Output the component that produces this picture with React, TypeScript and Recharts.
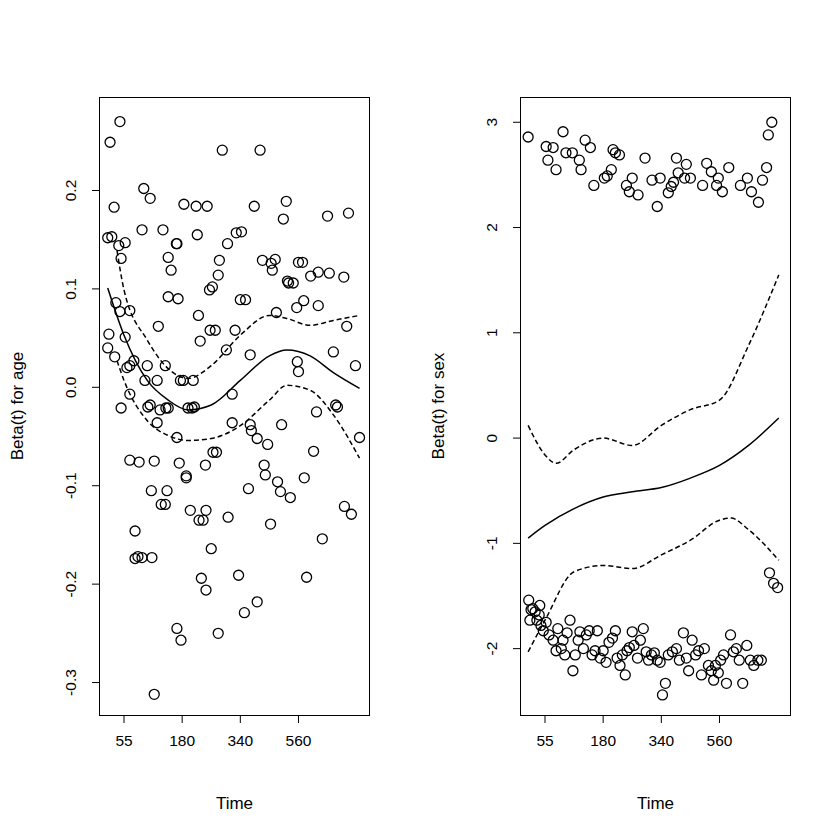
import { ComposedChart, Scatter, Line, XAxis, YAxis } from 'recharts'

// x is on the plot's transformed time scale (tick 55 -> 1, 180 -> 2, 340 -> 3, 560 -> 4)
const timeTicks = [1, 2, 3, 4]
const timeLabels = ['55', '180', '340', '560']

const ageTicks = [-0.3, -0.2, -0.1, 0, 0.1, 0.2]
const ageTickLabels = ['-0.3', '-0.2', '-0.1', '0.0', '0.1', '0.2']
const sexTicks = [-2, -1, 0, 1, 2, 3]

const agePoints: [number, number][] = [
  [0.76,.249],[0.93,.270],[0.83,.183],[0.72,.152],[0.79,.153],[0.91,.144],[0.95,.131],[1.02,.147],[0.86,.086],[0.93,.077],
  [0.74,.054],[0.72,.040],[0.84,.031],[1.10,.078],[1.02,.051],[1.10,.022],[1.05,.020],[1.17,.027],[1.10,-.007],[0.95,-.021],
  [1.10,-.074],[1.19,-.146],[1.24,-.172],[1.19,-.174],[1.26,-.076],[1.31,-.173],[1.34,.202],[1.31,.160],[1.36,.007],[1.41,-.020],
  [1.45,.192],[1.40,.022],[1.45,-.018],[1.47,-.105],[1.48,-.173],[1.52,-.075],[1.57,-.036],[1.62,-.023],[1.64,-.119],[1.57,.007],
  [1.59,.062],[1.67,.160],[1.71,.022],[1.72,-.021],[1.71,-.119],[1.74,-.105],[1.76,.092],[1.76,.132],[1.76,-.021],[1.81,.119],
  [1.90,.146],[1.91,.146],[1.91,-.051],[1.97,.007],[1.95,-.077],[1.93,.090],[1.91,-.245],[1.98,-.257],[2.02,.007],[2.03,.186],
  [2.07,-.090],[2.07,-.092],[2.10,-.021],[2.14,-.125],[2.17,-.021],[2.19,.007],[2.21,-.020],[2.24,.184],[2.26,.155],[2.28,.073],
  [2.31,.047],[2.29,-.135],[2.33,-.194],[2.40,-.079],[2.36,-.135],[2.41,-.206],[2.43,.184],[2.41,-.125],[2.47,.099],[2.48,.058],
  [2.52,.102],[2.50,-.164],[2.53,-.066],[2.57,.058],[2.59,-.066],[2.62,-.250],[2.62,.114],[2.64,.129],[2.69,.241],[2.76,.038],
  [2.78,.146],[2.79,-.132],[2.86,-.007],[2.91,.058],[2.86,-.036],[2.93,.157],[2.97,-.191],[3.00,.089],[3.02,.158],[3.07,-.229],
  [3.09,.089],[3.14,-.103],[3.17,-.038],[3.17,.033],[3.19,-.044],[3.24,.184],[3.29,-.052],[3.29,-.218],[3.34,.241],[3.38,.129],
  [3.41,-.079],[3.43,-.089],[3.47,-.058],[3.52,-.139],[3.55,.119],[3.53,.126],[3.60,.130],[3.62,.076],[3.64,-.096],[3.69,-.106],
  [3.71,-.038],[3.74,.171],[3.79,.189],[3.81,.108],[3.83,.106],[3.86,-.112],[3.91,.106],[3.97,.081],[3.98,.026],[4.00,.127],
  [4.00,.016],[4.07,.127],[4.09,.088],[4.10,-.092],[4.14,-.193],[4.21,.113],[4.26,-.065],[4.34,.083],[4.34,.117],[4.31,-.025],
  [4.41,-.154],[4.50,.174],[4.53,.116],[4.60,.036],[4.64,-.018],[4.67,-.020],[4.78,.112],[4.83,.062],[4.79,-.121],[4.86,.177],
  [4.91,-.129],[4.98,.022],[5.05,-.051],[1.52,-.312],
]

const ageFit: [number, number][] = [
  [0.72,.101],[1.0,.053],[1.4,.007],[1.76,-.013],[2.1,-.023],[2.5,-.018],[3.0,.007],[3.5,.032],[3.8,.038],[4.2,.032],[4.6,.015],[5.05,-.001],
]
const ageUpper: [number, number][] = [
  [0.88,.139],[1.0,.099],[1.4,.048],[1.76,.019],[2.1,.009],[2.5,.022],[3.0,.053],[3.5,.073],[3.8,.070],[4.2,.063],[4.6,.068],[5.05,.073],
]
const ageLower: [number, number][] = [
  [0.88,.027],[1.0,.007],[1.4,-.034],[1.76,-.049],[2.1,-.054],[2.5,-.052],[3.0,-.039],[3.5,-.013],[3.8,.002],[4.2,-.003],[4.6,-.028],[5.05,-.072],
]

const sexPoints: [number, number][] = [
  [0.71,2.86],[1.02,2.77],[1.05,2.64],[1.14,2.76],[1.19,2.55],[1.31,2.91],[1.36,2.71],[1.47,2.71],[1.59,2.64],[1.62,2.55],
  [1.69,2.83],[1.78,2.76],[1.84,2.40],[2.02,2.47],[2.07,2.49],[2.14,2.55],[2.17,2.74],[2.21,2.71],[2.28,2.69],[2.40,2.40],
  [2.45,2.34],[2.50,2.47],[2.60,2.31],[2.72,2.66],[2.84,2.45],[2.93,2.20],[2.98,2.47],[3.12,2.33],[3.17,2.39],[3.21,2.43],
  [3.26,2.66],[3.29,2.52],[3.40,2.47],[3.43,2.60],[3.50,2.47],[3.71,2.40],[3.78,2.61],[3.86,2.53],[3.95,2.40],[3.98,2.47],
  [4.05,2.34],[4.16,2.57],[4.36,2.40],[4.48,2.47],[4.55,2.34],[4.67,2.24],[4.74,2.45],[4.81,2.57],[4.84,2.88],[4.90,3.00],
  [0.72,-1.54],[0.76,-1.63],[0.74,-1.73],[0.79,-1.62],[0.83,-1.65],[0.86,-1.73],[0.90,-1.68],[0.91,-1.59],[0.93,-1.78],[0.97,-1.83],
  [1.02,-1.75],[1.07,-1.87],[1.14,-1.92],[1.19,-2.02],[1.22,-1.81],[1.28,-2.00],[1.31,-1.92],[1.34,-2.06],[1.38,-1.85],[1.43,-1.73],
  [1.48,-2.21],[1.52,-2.06],[1.57,-1.92],[1.60,-1.84],[1.66,-2.00],[1.71,-1.87],[1.76,-1.83],[1.81,-2.06],[1.86,-2.02],[1.90,-1.83],
  [1.95,-2.09],[2.00,-2.02],[2.05,-2.13],[2.10,-1.94],[2.16,-1.90],[2.21,-1.83],[2.24,-2.09],[2.29,-2.16],[2.33,-2.06],[2.38,-2.25],
  [2.41,-2.02],[2.45,-1.99],[2.50,-1.84],[2.53,-1.97],[2.59,-2.09],[2.64,-1.92],[2.69,-1.81],[2.74,-2.03],[2.78,-2.11],[2.83,-2.06],
  [2.88,-2.04],[2.93,-2.11],[2.98,-2.13],[3.02,-2.44],[3.07,-2.33],[3.12,-2.06],[3.19,-2.03],[3.26,-2.00],[3.31,-2.11],[3.38,-1.85],
  [3.43,-2.09],[3.47,-2.21],[3.53,-1.92],[3.59,-2.06],[3.64,-2.02],[3.69,-2.25],[3.74,-2.00],[3.81,-2.16],[3.86,-2.21],[3.90,-2.30],
  [3.93,-2.16],[3.98,-2.23],[4.02,-2.11],[4.07,-2.06],[4.12,-2.33],[4.19,-1.87],[4.24,-2.03],[4.29,-2.00],[4.34,-2.11],[4.40,-2.33],
  [4.47,-1.97],[4.53,-2.11],[4.59,-2.16],[4.66,-2.11],[4.72,-2.11],[4.86,-1.28],[4.93,-1.38],[5.00,-1.42],
]

const sexFit: [number, number][] = [
  [0.71,-0.95],[1.0,-0.83],[1.5,-0.67],[2.0,-0.56],[2.5,-0.51],[3.0,-0.47],[3.5,-0.38],[4.0,-0.26],[4.5,-0.07],[5.02,0.19],
]
const sexUpper: [number, number][] = [
  [0.71,0.12],[1.0,-0.16],[1.19,-0.24],[1.5,-0.11],[2.0,0.0],[2.5,-0.07],[3.0,0.12],[3.5,0.27],[4.0,0.36],[4.5,0.88],[5.02,1.55],
]
const sexLower: [number, number][] = [
  [0.71,-2.03],[1.0,-1.73],[1.5,-1.27],[2.0,-1.21],[2.5,-1.24],[3.0,-1.11],[3.5,-0.97],[4.0,-0.78],[4.2,-0.76],[4.5,-0.87],[5.02,-1.16],
]

const toRows = (pts: [number, number][]) => pts.map(([x, y]) => ({ x, y }))
const font = '"Liberation Sans", Arial, sans-serif'

const ring = (p: any) => <circle cx={p.cx} cy={p.cy} r={5} fill="none" stroke="#000" strokeWidth={1.3} />

const YTick = (labels: string[] | null) => (p: any) => {
  const v = p.payload.value
  const text = labels ? labels[p.index] : String(v)
  return (
    <text x={p.x - 14} y={p.y} transform={`rotate(-90 ${p.x - 14} ${p.y})`} textAnchor="middle"
      fontSize={15.5} fontFamily={font} fill="#000">{text}</text>
  )
}

const XTick = (p: any) => (
  <text x={p.x} y={p.y + 21} textAnchor="middle" fontSize={15.5} fontFamily={font} fill="#000">
    {timeLabels[timeTicks.indexOf(p.payload.value)]}
  </text>
)

interface PanelProps {
  left: number
  points: [number, number][]
  fit: [number, number][]
  upper: [number, number][]
  lower: [number, number][]
  yDomain: [number, number]
  yTicks: number[]
  yLabels: string[] | null
  title: string
}

function Panel({ left, points, fit, upper, lower, yDomain, yTicks, yLabels, title }: PanelProps) {
  return (
    <div style={{ position: 'absolute', left, top: 0, width: 420, height: 840 }}>
      <ComposedChart width={420} height={840} margin={{ top: 97, right: 50, bottom: 94, left: 39 }}>
        <XAxis type="number" dataKey="x" domain={[0.57, 5.23]} ticks={timeTicks} tick={XTick}
          axisLine={false} tickSize={7} tickLine={{ stroke: '#000' }} height={30} allowDataOverflow />
        <YAxis type="number" dataKey="y" domain={yDomain} ticks={yTicks} tick={YTick(yLabels)}
          axisLine={false} tickSize={7} tickLine={{ stroke: '#000' }} width={60} allowDataOverflow />
        <Scatter data={toRows(points)} shape={ring} isAnimationActive={false} />
        <Line data={toRows(fit)} dataKey="y" type="monotone" stroke="#000" strokeWidth={1.5} dot={false} isAnimationActive={false} />
        <Line data={toRows(upper)} dataKey="y" type="monotone" stroke="#000" strokeWidth={1.5} strokeDasharray="5 3" dot={false} isAnimationActive={false} />
        <Line data={toRows(lower)} dataKey="y" type="monotone" stroke="#000" strokeWidth={1.5} strokeDasharray="5 3" dot={false} isAnimationActive={false} />
      </ComposedChart>
      <div style={{ position: 'absolute', left: 99, top: 97, width: 271, height: 619, border: '1px solid #000', boxSizing: 'border-box', pointerEvents: 'none' }} />
      <div style={{ position: 'absolute', left: 99, width: 271, top: 794, textAlign: 'center', fontFamily: font, fontSize: 17 }}>Time</div>
      <div style={{ position: 'absolute', left: 18, top: 406, transform: 'translate(-50%, -50%) rotate(-90deg)', whiteSpace: 'nowrap', fontFamily: font, fontSize: 17 }}>{title}</div>
    </div>
  )
}

export default function App() {
  return (
    <div style={{ position: 'absolute', left: 0, top: 0, width: 840, height: 840, background: '#fff' }}>
      <Panel left={0} points={agePoints} fit={ageFit} upper={ageUpper} lower={ageLower}
        yDomain={[-0.334, 0.295]} yTicks={ageTicks} yLabels={ageTickLabels} title="Beta(t) for age" />
      <Panel left={421} points={sexPoints} fit={sexFit} upper={sexUpper} lower={sexLower}
        yDomain={[-2.64, 3.24]} yTicks={sexTicks} yLabels={null} title="Beta(t) for sex" />
    </div>
  )
}
